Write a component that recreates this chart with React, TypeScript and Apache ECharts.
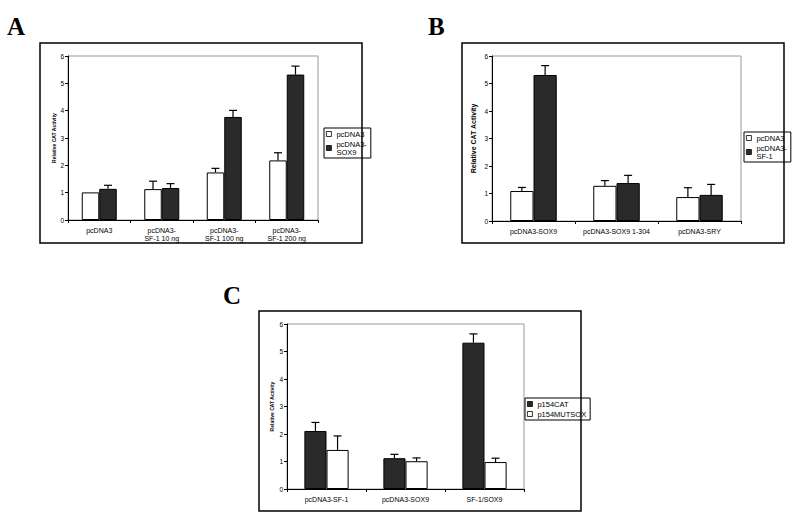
import React, { useEffect, useRef } from "react";
import * as echarts from "echarts";

// Panel A
const catsA = ["pcDNA3", "pcDNA3-\nSF-1 10 ng", "pcDNA3-\nSF-1 100 ng", "pcDNA3-\nSF-1 200 ng"];
const aWhite = [1.01, 1.13, 1.74, 2.18];
const aWhiteErr = [0, 0.29, 0.15, 0.28];
const aBlack = [1.14, 1.17, 3.77, 5.32];
const aBlackErr = [0.13, 0.16, 0.24, 0.31];
// Panel B
const catsB = ["pcDNA3-SOX9", "pcDNA3-SOX9 1-304", "pcDNA3-SRY"];
const bWhite = [1.09, 1.28, 0.87];
const bWhiteErr = [0.13, 0.19, 0.34];
const bBlack = [5.31, 1.38, 0.95];
const bBlackErr = [0.34, 0.28, 0.38];
// Panel C
const catsC = ["pcDNA3-SF-1", "pcDNA3-SOX9", "SF-1/SOX9"];
const cBlack = [2.11, 1.12, 5.32];
const cBlackErr = [0.31, 0.14, 0.32];
const cWhite = [1.42, 1.01, 0.98];
const cWhiteErr = [0.51, 0.12, 0.14];

const yTicks = [0, 1, 2, 3, 4, 5, 6];

const FONT = "Liberation Sans, Arial, sans-serif";
const DARK = "#2a2a2a";
const CAT_GAP = 0.44;

function makeBar(name: string, data: number[], dark: boolean, idx: number) {
  return {
    type: "bar",
    name,
    data,
    xAxisIndex: idx,
    yAxisIndex: idx,
    barGap: "0%",
    barCategoryGap: CAT_GAP * 100 + "%",
    itemStyle: { color: dark ? DARK : "#ffffff", borderColor: "#000", borderWidth: 1 },
    silent: true,
  };
}

function makeErr(values: number[], errs: number[], side: number, idx: number) {
  return {
    type: "custom",
    xAxisIndex: idx,
    yAxisIndex: idx,
    z: 10,
    silent: true,
    data: values.map((v, i) => [i, v, v + errs[i]]),
    renderItem: (params: any, api: any) => {
      const lo = api.value(1);
      const hi = api.value(2);
      if (hi - lo <= 0) return null;
      const c = api.coord([api.value(0), lo]);
      const t = api.coord([api.value(0), hi]);
      const band = api.size([1, 0])[0];
      const bw = (band * (1 - CAT_GAP)) / 2;
      const x = c[0] + (side * bw) / 2;
      const style = { stroke: "#000", lineWidth: 1.2 };
      return {
        type: "group",
        children: [
          { type: "line", shape: { x1: x, y1: c[1], x2: x, y2: t[1] }, style },
          { type: "line", shape: { x1: x - 4, y1: t[1], x2: x + 4, y2: t[1] }, style },
        ],
      };
    },
  };
}

function makeAxes(idx: number, cats: string[], nameSize: number, nameGap: number, xFont: number) {
  const x = {
    type: "category",
    gridIndex: idx,
    data: cats,
    axisLine: { lineStyle: { color: "#000", width: 1 } },
    axisTick: { show: true, length: 3, lineStyle: { color: "#000" } },
    axisLabel: { fontSize: xFont, fontFamily: FONT, color: "#000", margin: 6, lineHeight: xFont + 1, interval: 0 },
  };
  const y = {
    type: "value",
    gridIndex: idx,
    min: yTicks[0],
    max: yTicks[yTicks.length - 1],
    interval: 1,
    name: "Relative CAT Activity",
    nameLocation: "middle",
    nameRotate: 90,
    nameGap,
    nameTextStyle: { fontSize: nameSize, fontFamily: FONT, fontWeight: "bold", color: "#000" },
    axisLine: { show: true, lineStyle: { color: "#000", width: 1 } },
    axisTick: { show: true, length: 3, lineStyle: { color: "#000" } },
    axisLabel: { fontSize: 6.5, fontFamily: FONT, color: "#000", margin: 4 },
    splitLine: { show: false },
  };
  return { x, y };
}

const legendNames: Record<string, string> = {
  pcDNA3: "pcDNA3",
  "pcDNA3-SOX9": "pcDNA3-\nSOX9",
  "pcDNA3-SF-1": "pcDNA3-\nSF-1",
  p154CAT: "p154CAT",
  p154MUTSOX: "p154MUTSOX",
};

function makeLegend(left: number, top: number, data: string[]) {
  return {
    left,
    top,
    orient: "vertical",
    data,
    selectedMode: false,
    formatter: (n: string) => legendNames[n] || n,
    itemWidth: 5,
    itemHeight: 5,
    itemGap: 2,
    icon: "rect",
    borderColor: "#000",
    borderWidth: 1,
    padding: [2, 4, 2, 2],
    itemStyle: { borderColor: "#000", borderWidth: 0.8 },
    textStyle: { fontSize: 7.5, fontFamily: FONT, color: "#000", lineHeight: 8 },
  };
}

export default function App() {
  const ref = useRef<HTMLDivElement>(null);
  useEffect(() => {
    if (!ref.current) return;
    const chart = echarts.init(ref.current, undefined, { renderer: "svg" });
    const A = makeAxes(0, catsA, 5, 12, 7);
    const B = makeAxes(1, catsB, 7, 15, 7);
    const C = makeAxes(2, catsC, 5, 13, 7);
    const gridStyle = { show: true, borderColor: "#999", borderWidth: 1, backgroundColor: "transparent" };
    chart.setOption({
      animation: false,
      backgroundColor: "#ffffff",
      grid: [
        { left: 68, top: 56, width: 250, height: 164, ...gridStyle },
        { left: 492, top: 56, width: 249, height: 165, ...gridStyle },
        { left: 287, top: 324, width: 237, height: 165, ...gridStyle },
      ],
      xAxis: [A.x, B.x, C.x],
      yAxis: [A.y, B.y, C.y],
      legend: [
        makeLegend(324, 128, ["pcDNA3", "pcDNA3-SOX9"]),
        makeLegend(744, 132, ["pcDNA3", "pcDNA3-SF-1"]),
        makeLegend(525, 398, ["p154CAT", "p154MUTSOX"]),
      ],
      series: [
        makeBar("pcDNA3", aWhite, false, 0),
        makeBar("pcDNA3-SOX9", aBlack, true, 0),
        makeErr(aWhite, aWhiteErr, -1, 0),
        makeErr(aBlack, aBlackErr, 1, 0),
        makeBar("pcDNA3", bWhite, false, 1),
        makeBar("pcDNA3-SF-1", bBlack, true, 1),
        makeErr(bWhite, bWhiteErr, -1, 1),
        makeErr(bBlack, bBlackErr, 1, 1),
        makeBar("p154CAT", cBlack, true, 2),
        makeBar("p154MUTSOX", cWhite, false, 2),
        makeErr(cBlack, cBlackErr, -1, 2),
        makeErr(cWhite, cWhiteErr, 1, 2),
      ],
      graphic: [
        { type: "rect", shape: { x: 40, y: 43, width: 322, height: 200 }, style: { fill: "none", stroke: "#000", lineWidth: 1.5 }, silent: true },
        { type: "rect", shape: { x: 462, y: 43, width: 322, height: 200 }, style: { fill: "none", stroke: "#000", lineWidth: 1.5 }, silent: true },
        { type: "rect", shape: { x: 259, y: 311, width: 322, height: 200 }, style: { fill: "none", stroke: "#000", lineWidth: 1.5 }, silent: true },
        { type: "text", left: 7, top: 14, style: { text: "A", font: "bold 25px 'Liberation Serif', 'Times New Roman', serif", fill: "#000" } },
        { type: "text", left: 428, top: 14, style: { text: "B", font: "bold 25px 'Liberation Serif', 'Times New Roman', serif", fill: "#000" } },
        { type: "text", left: 223, top: 283, style: { text: "C", font: "bold 25px 'Liberation Serif', 'Times New Roman', serif", fill: "#000" } },
      ],
    });
    return () => chart.dispose();
  }, []);
  return (
    <div
      ref={ref}
      style={{ position: "fixed", left: 0, top: 0, width: 800, height: 523, background: "#fff" }}
    />
  );
}
